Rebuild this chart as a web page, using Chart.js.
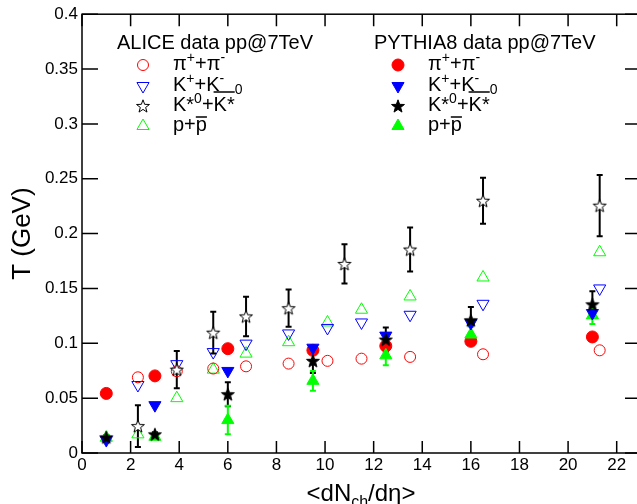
<!DOCTYPE html>
<html>
<head>
<meta charset="utf-8">
<script src="https://cdn.jsdelivr.net/npm/chart.js@4.4.1/dist/chart.umd.min.js"></script>
<style>
  html, body { margin: 0; padding: 0; background: #fff; overflow: hidden; }
  #wrap { width: 637px; height: 504px; overflow: hidden; }
</style>
</head>
<body>
<div id="wrap"><canvas id="grafico" width="650" height="504"></canvas></div>
<script>
const FONTE = "'Liberation Sans', Arial, Helvetica, sans-serif";

// ALICE data pp@7TeV (open markers)
const aliceX = [2.3, 3.9, 5.4, 6.75, 8.5, 10.1, 11.5, 13.5, 16.5, 21.3];
const alicePi = [0.069, 0.0745, 0.077, 0.079, 0.0815, 0.084, 0.086, 0.0876, 0.090, 0.0936];
const aliceK = [0.062, 0.081, 0.092, 0.0997, 0.109, 0.114, 0.119, 0.126, 0.136, 0.150];
const aliceP = [0.017, 0.050, 0.076, 0.0906, 0.101, 0.119, 0.1306, 0.1427, 0.160, 0.183];
const aliceKsX = [2.3, 3.9, 5.4, 6.75, 8.5, 10.8, 13.5, 16.5, 21.3];
const aliceKs = [0.0245, 0.076, 0.1097, 0.1245, 0.132, 0.1724, 0.1855, 0.230, 0.2255];
const aliceKsErr = [0.019, 0.017, 0.019, 0.018, 0.017, 0.018, 0.020, 0.021, 0.028];

// PYTHIA8 pp@7TeV (filled markers)
const pythiaX = [1.0, 3.0, 6.0, 9.5, 12.5, 16.0, 21.0];
const pythiaPi = [0.0543, 0.0703, 0.0951, 0.0936, 0.0976, 0.1018, 0.1058];
const pythiaK = [0.0118, 0.0436, 0.0748, 0.096, 0.107, 0.1185, 0.1276];
const pythiaKs = [0.0143, 0.017, 0.0536, 0.084, 0.1034, 0.121, 0.1355];
const pythiaKsErr = [0.002, 0.002, 0.011, 0.011, 0.011, 0.012, 0.012];
const pythiaP = [0.0139, 0.0148, 0.030, 0.0658, 0.089, 0.108, 0.1255];
const pythiaPErr = [0.002, 0.002, 0.013, 0.009, 0.009, 0.007, 0.008];

// eixos
const xTicks = [0, 2, 4, 6, 8, 10, 12, 14, 16, 18, 20, 22];
const yTicks = [0, 0.05, 0.1, 0.15, 0.2, 0.25, 0.3, 0.35, 0.4];

const VERMELHO = "#ff0000";
const AZUL = "#0000ff";
const VERDE = "#00ff00";
const PRETO = "#000000";

function pontos(xs, ys) {
  return xs.map((x, i) => ({ x: x, y: ys[i] }));
}

// estrela de 5 pontas como imagem
function estrela(cheia) {
  const c = document.createElement("canvas");
  c.width = 16;
  c.height = 16;
  const g = c.getContext("2d");
  g.beginPath();
  for (let i = 0; i < 10; i++) {
    const r = i % 2 === 0 ? 6.8 : 2.8;
    const a = -Math.PI / 2 + i * Math.PI / 5;
    const px = 8 + r * Math.cos(a);
    const py = 8.6 + r * Math.sin(a);
    if (i === 0) g.moveTo(px, py); else g.lineTo(px, py);
  }
  g.closePath();
  g.fillStyle = cheia ? PRETO : "#ffffff";
  g.fill();
  g.lineWidth = 1;
  g.strokeStyle = PRETO;
  g.stroke();
  return c;
}
const estrelaAberta = estrela(false);
const estrelaCheia = estrela(true);

const datasets = [
  { label: "PYTHIA8 K*0", data: pontos(pythiaX, pythiaKs), pointStyle: estrelaCheia, erros: pythiaKsErr, corErro: PRETO },
  { label: "PYTHIA8 K", data: pontos(pythiaX, pythiaK), pointStyle: "triangle", rotation: 180, radius: 7,
    backgroundColor: AZUL, borderColor: AZUL, borderWidth: 1 },
  { label: "PYTHIA8 p", data: pontos(pythiaX, pythiaP), pointStyle: "triangle", radius: 7,
    backgroundColor: VERDE, borderColor: VERDE, borderWidth: 1, erros: pythiaPErr, corErro: VERDE },
  { label: "PYTHIA8 pi", data: pontos(pythiaX, pythiaPi), pointStyle: "circle", radius: 6,
    backgroundColor: VERMELHO, borderColor: VERMELHO, borderWidth: 1 },
  { label: "ALICE K*0", data: pontos(aliceKsX, aliceKs), pointStyle: estrelaAberta, erros: aliceKsErr, corErro: PRETO },
  { label: "ALICE pi", data: pontos(aliceX, alicePi), pointStyle: "circle", radius: 5.5,
    backgroundColor: "rgba(0,0,0,0)", borderColor: VERMELHO, borderWidth: 1 },
  { label: "ALICE K", data: pontos(aliceX, aliceK), pointStyle: "triangle", rotation: 180, radius: 7,
    backgroundColor: "rgba(0,0,0,0)", borderColor: AZUL, borderWidth: 1 },
  { label: "ALICE p", data: pontos(aliceX, aliceP), pointStyle: "triangle", radius: 7,
    backgroundColor: "rgba(0,0,0,0)", borderColor: VERDE, borderWidth: 1 }
];

// barras de erro (desenhadas antes dos marcadores)
const barrasErro = {
  id: "barrasErro",
  beforeDatasetsDraw(chart) {
    const ctx = chart.ctx;
    const escalaY = chart.scales.y;
    chart.data.datasets.forEach((ds, i) => {
      if (!ds.erros) return;
      const meta = chart.getDatasetMeta(i);
      ctx.save();
      ctx.strokeStyle = ds.corErro;
      ctx.lineWidth = 2;
      meta.data.forEach((pt, j) => {
        const v = ds.data[j].y;
        const e = ds.erros[j];
        const y1 = escalaY.getPixelForValue(v + e);
        const y2 = escalaY.getPixelForValue(v - e);
        ctx.beginPath();
        ctx.moveTo(pt.x, y1); ctx.lineTo(pt.x, y2);
        ctx.moveTo(pt.x - 3, y1); ctx.lineTo(pt.x + 3, y1);
        ctx.moveTo(pt.x - 3, y2); ctx.lineTo(pt.x + 3, y2);
        ctx.stroke();
      });
      ctx.restore();
    });
  }
};

// moldura com marcas para dentro (estilo ROOT)
const moldura = {
  id: "moldura",
  beforeDatasetsDraw(chart) {
    const ctx = chart.ctx;
    const a = chart.chartArea;
    const sx = chart.scales.x;
    const sy = chart.scales.y;
    ctx.save();
    ctx.strokeStyle = PRETO;
    ctx.lineWidth = 1.5;
    ctx.strokeRect(a.left, a.top, a.right - a.left, a.bottom - a.top);
    ctx.beginPath();
    xTicks.forEach(v => {
      const px = sx.getPixelForValue(v);
      ctx.moveTo(px, a.bottom); ctx.lineTo(px, a.bottom - 12);
      ctx.moveTo(px, a.top); ctx.lineTo(px, a.top + 12);
    });
    yTicks.forEach(v => {
      const py = sy.getPixelForValue(v);
      ctx.moveTo(a.left, py); ctx.lineTo(a.left + 16, py);
      ctx.moveTo(a.right, py); ctx.lineTo(a.right - 16, py);
    });
    ctx.stroke();
    ctx.restore();
  }
};

// texto com sobrescrito / subscrito / barra
function textoRico(ctx, x, y, partes, tam) {
  let cx = x;
  partes.forEach(p => {
    const t = p[0], tipo = p[1];
    let dy = 0;
    let size = tam;
    if (tipo === "s") { size = Math.round(tam * 0.7); dy = -(p[2] || 8); }
    if (tipo === "b") { size = Math.round(tam * 0.65); dy = p[2] || 5; }
    ctx.font = size + "px " + FONTE;
    const w = ctx.measureText(t).width;
    ctx.fillText(t, cx, y + dy);
    if (tipo === "o") {
      ctx.save();
      ctx.lineWidth = 1.5;
      ctx.beginPath();
      ctx.moveTo(cx, y - p[2]);
      ctx.lineTo(cx + w, y - p[2]);
      ctx.stroke();
      ctx.restore();
    }
    cx += w;
  });
  return cx - x;
}

function larguraRica(ctx, partes, tam) {
  let w = 0;
  partes.forEach(p => {
    let size = tam;
    if (p[1] === "s") size = Math.round(tam * 0.7);
    if (p[1] === "b") size = Math.round(tam * 0.65);
    ctx.font = size + "px " + FONTE;
    w += ctx.measureText(p[0]).width;
  });
  return w;
}

const rotulos = [
  [["\u03c0", "n"], ["+", "s"], ["+", "n"], ["\u03c0", "n"], ["-", "s"]],
  [["K", "n"], ["+", "s"], ["+", "n"], ["K", "n"], ["-", "s"]],
  [["K", "n"], ["*", "n"], ["0", "s"], ["+", "n"], ["K*", "o", 19], ["0", "s", 17]],
  [["p", "n"], ["+", "n"], ["p", "o", 14]]
];
const linhasY = [70, 91, 111, 131];

function marcador(ctx, tipo, cheio, cor, x, y) {
  ctx.save();
  if (tipo === "estrela") {
    ctx.drawImage(cheio ? estrelaCheia : estrelaAberta, x - 8, y - 8);
  } else {
    ctx.fillStyle = cheio ? cor : "rgba(0,0,0,0)";
    ctx.strokeStyle = cor;
    ctx.lineWidth = 1;
    const opts = {
      pointStyle: tipo === "circulo" ? "circle" : "triangle",
      rotation: tipo === "baixo" ? 180 : 0,
      radius: tipo === "circulo" ? (cheio ? 6 : 5.5) : 7,
      borderWidth: 1
    };
    Chart.helpers.drawPoint(ctx, opts, x, y);
  }
  ctx.restore();
}

const legenda = {
  id: "legenda",
  afterDraw(chart) {
    const ctx = chart.ctx;
    ctx.save();
    ctx.fillStyle = PRETO;
    ctx.strokeStyle = PRETO;
    ctx.textBaseline = "alphabetic";
    ctx.textAlign = "left";
    ctx.font = "20px " + FONTE;
    ctx.fillText("ALICE data pp@7TeV", 117, 49);
    ctx.fillText("PYTHIA8 data pp@7TeV", 374, 49);

    const tipos = [["circulo", VERMELHO], ["baixo", AZUL], ["estrela", PRETO], ["cima", VERDE]];
    tipos.forEach((t, i) => {
      const ym = linhasY[i] - 5;
      marcador(ctx, t[0], false, t[1], 143, ym);
      marcador(ctx, t[0], true, t[1], 398, ym);
      ctx.fillStyle = PRETO;
      ctx.strokeStyle = PRETO;
      textoRico(ctx, 173, linhasY[i], rotulos[i], 20);
      textoRico(ctx, 428, linhasY[i], rotulos[i], 20);
    });

    // titulo do eixo x: <dN_ch/deta>
    const partesX = [["<dN", "n"], ["ch", "b", 6], ["/d\u03b7>", "n"]];
    const w = larguraRica(ctx, partesX, 24);
    textoRico(ctx, 361 - w / 2, 501, partesX, 24);
    ctx.restore();
  }
};

new Chart(document.getElementById("grafico").getContext("2d"), {
  type: "scatter",
  data: { datasets: datasets },
  options: {
    responsive: false,
    animation: false,
    layout: { padding: { top: 13, right: 9, left: 0, bottom: 0 } },
    plugins: {
      legend: { display: false },
      tooltip: { enabled: false }
    },
    scales: {
      x: {
        type: "linear",
        min: 0,
        max: 23,
        afterFit(s) { s.height = 51; },
        afterBuildTicks(s) { s.ticks = xTicks.map(v => ({ value: v })); },
        grid: { display: false, drawTicks: false },
        border: { display: false },
        ticks: {
          color: PRETO,
          font: { family: FONTE, size: 17 },
          padding: 2,
          maxRotation: 0,
          autoSkip: false,
          callback: v => String(v)
        }
      },
      y: {
        type: "linear",
        min: 0,
        max: 0.4,
        afterFit(s) { s.width = 82; },
        afterBuildTicks(s) { s.ticks = yTicks.map(v => ({ value: v })); },
        grid: { display: false, drawTicks: false },
        border: { display: false },
        title: {
          display: true,
          text: "T (GeV)",
          color: PRETO,
          font: { family: FONTE, size: 26 },
          padding: { top: 7, bottom: 0 }
        },
        ticks: {
          color: PRETO,
          font: { family: FONTE, size: 17 },
          padding: 4,
          autoSkip: false,
          callback: v => String(+v.toFixed(2))
        }
      }
    }
  },
  plugins: [moldura, barrasErro, legenda]
});
</script>
</body>
</html>
